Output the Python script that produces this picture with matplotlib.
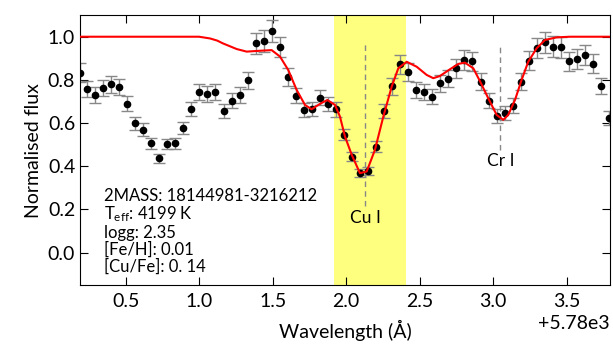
import matplotlib
matplotlib.use("Agg")
import matplotlib.pyplot as plt
import numpy as np

plt.rcParams['font.family'] = ['Lato', 'DejaVu Sans']
plt.rcParams['mathtext.fontset'] = 'custom'
plt.rcParams['mathtext.rm'] = 'Lato'
plt.rcParams['mathtext.it'] = 'Lato:italic'
plt.rcParams['axes.formatter.offset_threshold'] = 2

# observed spectrum (wavelength - 5780 A)
wave_off = [0.187, 0.239, 0.293, 0.348, 0.402, 0.457, 0.511, 0.566, 0.620, 0.674,
            0.729, 0.783, 0.838, 0.892, 0.946, 1.001, 1.055, 1.110, 1.167, 1.221,
            1.276, 1.330, 1.385, 1.439, 1.493, 1.548, 1.602, 1.657, 1.711, 1.766,
            1.822, 1.876, 1.931, 1.985, 2.040, 2.094, 2.148, 2.203, 2.257, 2.312,
            2.366, 2.420, 2.475, 2.529, 2.586, 2.640, 2.695, 2.749, 2.804, 2.858,
            2.915, 2.970, 3.024, 3.078, 3.133, 3.187, 3.242, 3.296, 3.350, 3.405,
            3.459, 3.514, 3.568, 3.625, 3.679, 3.734, 3.790]
flux = [0.834, 0.758, 0.732, 0.763, 0.780, 0.766, 0.690, 0.600, 0.570, 0.507,
        0.436, 0.503, 0.507, 0.577, 0.664, 0.743, 0.734, 0.744, 0.656, 0.704,
        0.732, 0.798, 0.969, 0.980, 1.028, 0.952, 0.815, 0.727, 0.659, 0.664,
        0.718, 0.689, 0.663, 0.547, 0.445, 0.370, 0.378, 0.491, 0.656, 0.771,
        0.872, 0.835, 0.754, 0.744, 0.723, 0.785, 0.806, 0.854, 0.892, 0.886,
        0.791, 0.704, 0.633, 0.646, 0.680, 0.791, 0.888, 0.949, 0.974, 0.954,
        0.951, 0.886, 0.896, 0.915, 0.875, 0.772, 0.623]
flux_err = [0.042, 0.038, 0.037, 0.038, 0.039, 0.038, 0.035, 0.030, 0.029, 0.025,
            0.022, 0.025, 0.025, 0.029, 0.033, 0.037, 0.037, 0.037, 0.033, 0.035,
            0.037, 0.040, 0.048, 0.049, 0.051, 0.048, 0.041, 0.036, 0.033, 0.033,
            0.036, 0.034, 0.033, 0.027, 0.022, 0.019, 0.019, 0.025, 0.033, 0.039,
            0.044, 0.042, 0.038, 0.037, 0.036, 0.039, 0.040, 0.043, 0.045, 0.044,
            0.040, 0.035, 0.032, 0.032, 0.034, 0.040, 0.044, 0.047, 0.049, 0.048,
            0.048, 0.044, 0.045, 0.046, 0.044, 0.039, 0.031]

# synthetic model
model_off = [0.189, 0.999, 1.074, 1.123, 1.162, 1.255, 1.323, 1.414, 1.493, 1.550,
             1.606, 1.663, 1.720, 1.765, 1.822, 1.872, 1.924, 1.958, 1.992, 2.038,
             2.094, 2.140, 2.196, 2.253, 2.310, 2.355, 2.412, 2.480, 2.548, 2.593,
             2.638, 2.706, 2.763, 2.808, 2.865, 2.910, 2.967, 3.024, 3.069, 3.103,
             3.149, 3.194, 3.239, 3.296, 3.353, 3.432, 3.523, 3.795]
model_flux = [1.000, 1.000, 0.992, 0.982, 0.969, 0.943, 0.931, 0.935, 0.938, 0.908,
              0.846, 0.754, 0.684, 0.664, 0.689, 0.707, 0.684, 0.630, 0.538, 0.453,
              0.368, 0.376, 0.476, 0.630, 0.769, 0.854, 0.884, 0.861, 0.823, 0.808,
              0.818, 0.849, 0.874, 0.880, 0.854, 0.795, 0.715, 0.638, 0.615, 0.638,
              0.707, 0.800, 0.884, 0.946, 0.985, 0.997, 1.000, 1.000]

base = 5780.0
cu_window = (1.92, 2.41)
lines = [("Cu I", 2.128, 0.214, 0.975), ("Cr I", 3.05, 0.476, 0.962)]
info = ["2MASS: 18144981-3216212", r"T$_{\mathrm{eff}}$: 4199 K", "logg: 2.35",
        "[Fe/H]: 0.01", "[Cu/Fe]: 0. 14"]

fig, ax = plt.subplots(figsize=(6.13, 3.44), dpi=100)
fig.subplots_adjust(left=0.1305, right=0.995, top=0.956, bottom=0.1715)

wave = base + np.array(wave_off)
ax.axvspan(base + cu_window[0], base + cu_window[1], color='yellow', alpha=0.5, lw=0, zorder=0)

for name, lam, y0, y1 in lines:
    ax.plot([base + lam, base + lam], [y0, y1], ls=(0, (4, 3)), color='#888888', lw=1, zorder=1)
    ax.text(base + lam, y0 - 0.015, name, ha='center', va='top', fontsize=12.5)

ax.errorbar(wave, flux, yerr=flux_err, fmt='o', color='black', ms=4.5,
            ecolor='#888888', elinewidth=1, capsize=4, capthick=1, zorder=2)
ax.plot(base + np.array(model_off), model_flux, color='red', lw=1.5, zorder=3)

ax.text(0.045, 0.36, "\n".join(info), transform=ax.transAxes, ha='left', va='top',
        fontsize=12, linespacing=1.05)

ax.set_xlim(base + 0.189, base + 3.795)
ax.set_ylim(-0.15, 1.1)
ax.set_yticks([0.0, 0.2, 0.4, 0.6, 0.8, 1.0])
ax.tick_params(direction='in', top=True, right=True, length=6, labelsize=14)
ax.tick_params(axis='x', pad=6)
ax.set_xlabel("Wavelength (Å)", fontsize=14, labelpad=7)
ax.set_ylabel("Normalised flux", fontsize=14)
ax.xaxis.get_offset_text().set_fontsize(14)

fig.savefig("out.png", dpi=100)
